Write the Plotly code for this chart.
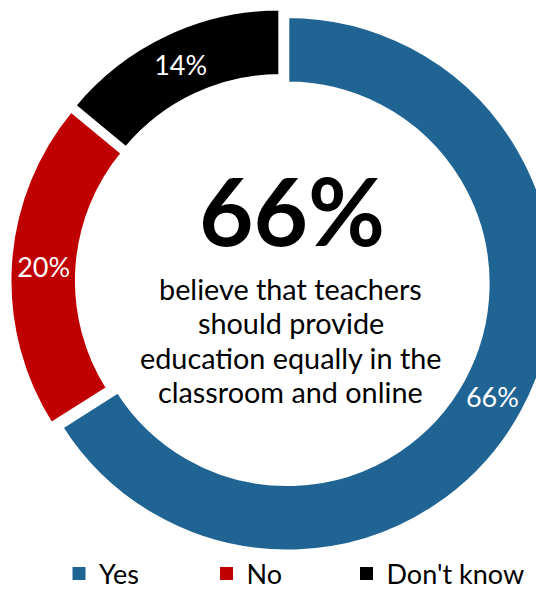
import plotly.graph_objects as go

# ---- data ----
labels = ["Yes", "No", "Don't know"]
values = [66, 20, 14]
colors = ["#206494", "#C00000", "#000000"]
headline = "66%"
caption_lines = ["believe that teachers", "should provide",
                 "education equally in the", "classroom and online"]

# ---- layout geometry (figure px) ----
W, H = 560, 590
FONT = "Lato"
pull = 0.02
r_out = 267.8
cx, cy = 274.6, 273.15
box = 2 * r_out * (1 + pull)

fig = go.Figure()
fig.add_trace(go.Pie(
    labels=labels, values=values,
    marker=dict(colors=colors, line=dict(color="white", width=4)),
    hole=0.748, sort=False, direction="clockwise", rotation=0,
    pull=[pull] * len(values),
    texttemplate="%{percent:.0%}", textposition="inside",
    insidetextorientation="horizontal",
    insidetextfont=dict(family=FONT, size=27, color="white"),
    domain=dict(x=[max(0, (cx - box / 2) / W), min(1, (cx + box / 2) / W)],
                y=[max(0, 1 - (cy + box / 2) / H), min(1, 1 - (cy - box / 2) / H)]),
    showlegend=False, hoverinfo="label+percent",
))

# legend entries (square swatches), one legend per entry for spacing
legend_names = ["legend", "legend2", "legend3"]
legend_x = [51, 198.5, 338.5]
for lab, col, lg in zip(labels, colors, legend_names):
    fig.add_trace(go.Scatter(
        x=[None], y=[None], mode="markers", name=lab, legend=lg,
        marker=dict(symbol="square", size=13, color=col),
        showlegend=True, hoverinfo="skip",
    ))

fig.add_annotation(
    text=f"<b>{headline}</b>", x=283.7 / W, y=1 - 202 / H,
    xref="paper", yref="paper", xanchor="center", yanchor="middle",
    showarrow=False, font=dict(family=FONT, size=94, color="black"),
)
line_mid_y = [280.5, 315, 349.5, 384]
for txt, my in zip(caption_lines, line_mid_y):
    fig.add_annotation(
        text=txt, x=282.5 / W, y=1 - my / H,
        xref="paper", yref="paper", xanchor="center", yanchor="middle",
        showarrow=False, font=dict(family=FONT, size=28.8, color="black"),
    )

legend_style = dict(orientation="h", xanchor="left", yanchor="middle",
                    y=1 - 566 / H,
                    font=dict(family=FONT, size=27, color="black"),
                    bgcolor="rgba(0,0,0,0)", borderwidth=0)
fig.update_layout(
    width=W, height=H,
    margin=dict(l=0, r=0, t=0, b=0, autoexpand=False),
    paper_bgcolor="white", plot_bgcolor="white",
    xaxis=dict(visible=False), yaxis=dict(visible=False),
    font=dict(family=FONT, color="black"),
    legend=dict(x=legend_x[0] / W, **legend_style),
    legend2=dict(x=legend_x[1] / W, **legend_style),
    legend3=dict(x=legend_x[2] / W, **legend_style),
)

fig.write_html("out.html")
